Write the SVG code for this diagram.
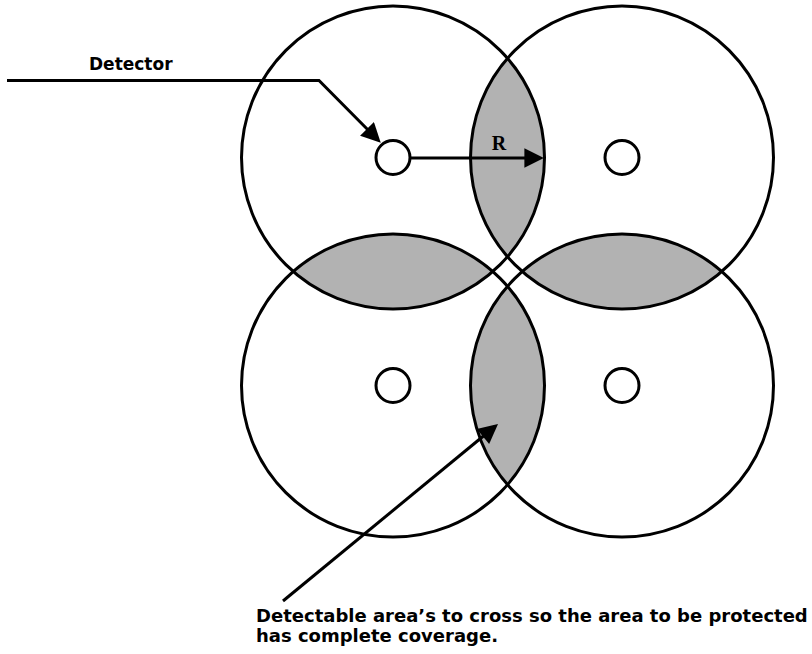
<svg xmlns="http://www.w3.org/2000/svg" width="812" height="654" viewBox="0 0 812 654">
  <style>
    .zone { fill: none; stroke: #000; stroke-width: 3; }
    .det { fill: #fff; stroke: #000; stroke-width: 3; }
    .lens { fill: #b2b2b2; stroke: none; }
    .conn { fill: none; stroke: #000; stroke-width: 3; stroke-linejoin: miter; }
    .lbl { font-family: "DejaVu Sans", "Liberation Sans", sans-serif; font-weight: bold; fill: #000; }
    .r { font-family: "Liberation Serif", "DejaVu Serif", serif; font-weight: bold; font-size: 20px; fill: #000; }
  </style>
  <defs>
    <marker id="arrow" viewBox="0 0 10 10" markerWidth="7" markerHeight="6.5" refX="8" refY="5" orient="auto" markerUnits="strokeWidth">
      <path d="M0,0 L10,5 L0,10 z" fill="#000"/>
    </marker>
  </defs>
  <rect width="812" height="654" fill="#fff"/>

  <g id="overlaps">
    <path class="lens" d="M507.5,58.3 A151.5,151.5 0 0 1 507.5,256.7 A151.5,151.5 0 0 1 507.5,58.3 Z"/>
    <path class="lens" d="M507.5,286.3 A151.5,151.5 0 0 1 507.5,484.7 A151.5,151.5 0 0 1 507.5,286.3 Z"/>
    <path class="lens" d="M293.2,271.5 A151.5,151.5 0 0 1 492.8,271.5 A151.5,151.5 0 0 1 293.2,271.5 Z"/>
    <path class="lens" d="M522.2,271.5 A151.5,151.5 0 0 1 721.8,271.5 A151.5,151.5 0 0 1 522.2,271.5 Z"/>
  </g>

  <g id="detector-top-left">
    <circle class="zone" cx="393" cy="157.5" r="151.5"/>
    <circle class="det" cx="393" cy="157.5" r="17"/>
  </g>
  <g id="detector-top-right">
    <circle class="zone" cx="622" cy="157.5" r="151.5"/>
    <circle class="det" cx="622" cy="157.5" r="17"/>
  </g>
  <g id="detector-bottom-left">
    <circle class="zone" cx="393" cy="385.5" r="151.5"/>
    <circle class="det" cx="393" cy="385.5" r="17"/>
  </g>
  <g id="detector-bottom-right">
    <circle class="zone" cx="622" cy="385.5" r="151.5"/>
    <circle class="det" cx="622" cy="385.5" r="17"/>
  </g>

  <g id="connectors">
    <polyline class="conn" points="7,80.5 319,80.5 378,140" marker-end="url(#arrow)"/>
    <line class="conn" x1="410" y1="158" x2="540" y2="158" marker-end="url(#arrow)"/>
    <line class="conn" x1="283" y1="601" x2="495" y2="426.5" marker-end="url(#arrow)"/>
  </g>

  <g id="labels">
    <text class="lbl" x="89" y="70" font-size="17">Detector</text>
    <text class="r" x="499" y="150" text-anchor="middle">R</text>
    <text class="lbl" x="256" y="622" font-size="18">Detectable area’s to cross so the area to be protected</text>
    <text class="lbl" x="256" y="642" font-size="18">has complete coverage.</text>
  </g>
</svg>
